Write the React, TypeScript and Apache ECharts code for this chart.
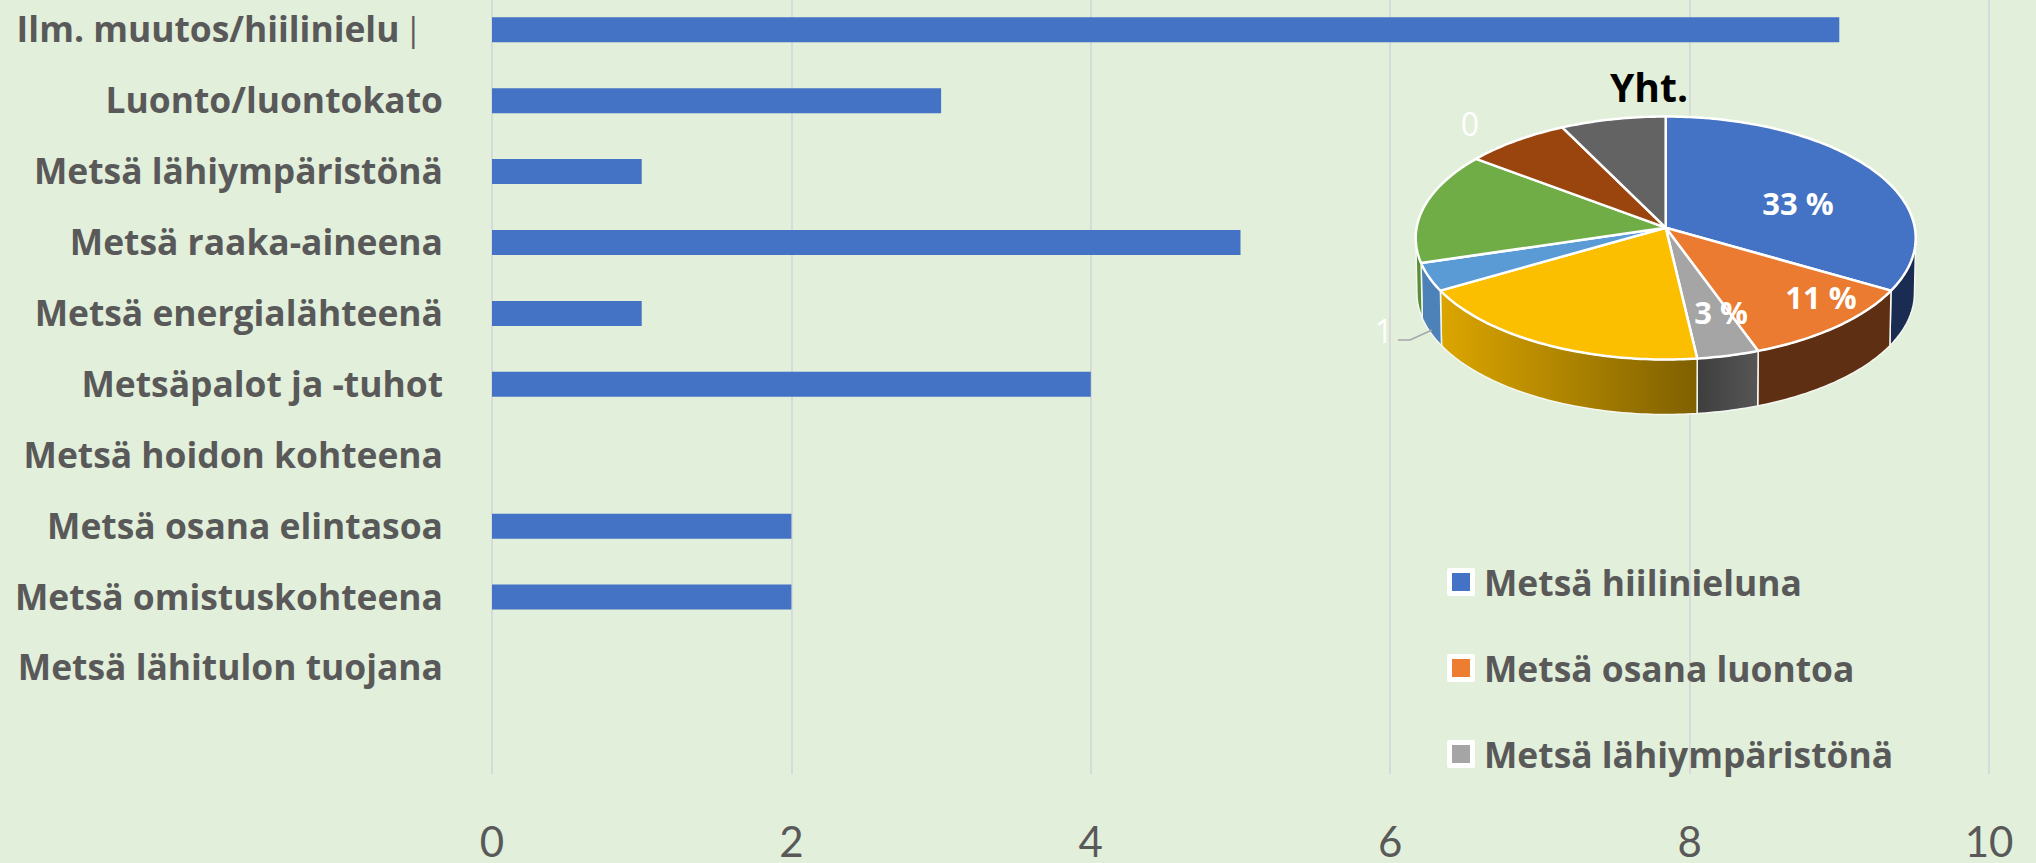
import React, { useEffect, useRef } from "react";
import * as echarts from "echarts";

const categories = [
  "Ilm. muutos/hiilinielu",
  "Luonto/luontokato",
  "Metsä lähiympäristönä",
  "Metsä raaka-aineena",
  "Metsä energialähteenä",
  "Metsäpalot ja -tuhot",
  "Metsä hoidon kohteena",
  "Metsä osana elintasoa",
  "Metsä omistuskohteena",
  "Metsä lähitulon tuojana",
  "",
];
const values = [9, 3, 1, 5, 1, 4, 0, 2, 2, 0, null];
const pieValues = [9, 3, 1, 5, 1, 4, 0, 2, 2, 0];
const pieColors = ["#4472C4", "#EA7B30", "#A5A5A5", "#FBBF00", "#5B9BD5", "#70AD47", "#264478", "#9A450D", "#636363", "#997300"];
const legendNames = ["Metsä hiilinieluna", "Metsä osana luontoa", "Metsä lähiympäristönä"];
const legendColors = ["#4472C4", "#ED7D31", "#A5A5A5"];
const tickStep = 2;

const linear = (a: string, b: string) => ({
  type: "linear", x: 0, y: 0, x2: 1, y2: 0,
  colorStops: [{ offset: 0, color: a }, { offset: 1, color: b }],
});
const wallFill: any[] = [
  "#1B2C52", "#5E2F13", linear("#3E3E3E", "#565656"), linear("#DCA600", "#7F6000"),
  "#4D82B8", "#5A8F36", "#1B2C52", "#5E2F13", "#444444", "#7F6000",
];

const FONT = "'Open Sans', sans-serif";
const TICKFONT = "Lato, sans-serif";
const GREY = "#595959";
const LABEL_SIZE = 35.4;
const OFF = 20;
const GRID_TOP = OFF - 5.65;
const cx = 1665.7, cy = 238 + OFF, rx = 250, ry = 121.5, depth = 55;
const apex = [1665.7, 227.7 + OFF];
const total = pieValues.reduce((a, b) => a + b, 0);
const DEG = Math.PI / 180;
const warp = (t: number) => t - 0.087 * Math.sin(t);
const rim = (t: number, dy = 0, k = 1) => {
  const p = warp(t);
  return [cx + k * rx * Math.sin(p), cy + dy - ry * Math.cos(p)];
};
const arcPts = (a: number, b: number, dy = 0, k = 1) => {
  const n = Math.max(2, Math.ceil(Math.abs(b - a) / DEG));
  const out: number[][] = [];
  for (let i = 0; i <= n; i++) out.push(rim(a + ((b - a) * i) / n, dy, k));
  return out;
};

const pct = (v: number) => `${Math.floor((v / total) * 100)} %`;

function renderSlice(params: any) {
  const i = params.dataIndex;
  const v = pieValues[i];
  if (!v) return null;
  const before = pieValues.slice(0, i).reduce((a, b) => a + b, 0);
  const t1 = (before / total) * 2 * Math.PI;
  const t2 = ((before + v) / total) * 2 * Math.PI;
  const children: any[] = [];
  const wa = Math.max(t1, 95 * DEG);
  const wb = Math.min(t2, 265 * DEG);
  if (wb > wa) {
    children.push({
      type: "polygon",
      shape: { points: [...arcPts(wa, wb), ...arcPts(wb, wa, depth, 0.995)] },
      style: { fill: wallFill[i], stroke: "#F4F8F0", lineWidth: 1.5 },
    });
  }
  children.push({
    type: "polygon",
    shape: { points: [apex, ...arcPts(t1, t2)] },
    style: { fill: pieColors[i], stroke: "#FFFFFF", lineWidth: 2.5, lineJoin: "round" },
  });
  return { type: "group", children };
}

const txt = (text: string, x: number, y: number, fontSize: number, weight: string, fill: string, align = "center", font = FONT) => ({
  type: "text", x, y: y + OFF, z: 100,
  style: { text, fill, textAlign: align, textVerticalAlign: "middle", font: `${weight} ${fontSize}px ${font}` },
});

export default function App() {
  const ref = useRef<HTMLDivElement>(null);
  useEffect(() => {
    document.body.style.margin = "0";
    document.body.style.background = "#E2EFDA";
    const chart = echarts.init(ref.current!, null, { renderer: "svg" });
    const legendRows = [582, 668, 754];
    const legendGraphics: any[] = [];
    legendNames.forEach((name, i) => {
      const y = legendRows[i] + OFF;
      legendGraphics.push({ type: "rect", z: 100, shape: { x: 1447, y: y - 14, width: 28, height: 28, r: 2 }, style: { fill: "#FFFFFF" } });
      legendGraphics.push({ type: "rect", z: 101, shape: { x: 1452, y: y - 9, width: 18, height: 18 }, style: { fill: legendColors[i] } });
      legendGraphics.push(txt(name, 1484, legendRows[i], LABEL_SIZE, "bold", GREY, "left"));
    });
    chart.setOption({
      animation: false,
      backgroundColor: "#E2EFDA",
      grid: { left: 492, top: GRID_TOP, width: 1497, height: 780, containLabel: false, outerBoundsMode: "none" },
      xAxis: {
        type: "value", min: 0, max: 10, interval: tickStep,
        axisLine: { show: false }, axisTick: { show: false },
        axisLabel: { fontFamily: TICKFONT, fontSize: 42, lineHeight: 42, color: GREY, margin: 46 },
        splitLine: { lineStyle: { color: "#D6DADA", width: 2 } },
      },
      yAxis: {
        type: "category", inverse: true, data: categories,
        axisLine: { show: false }, axisTick: { show: false },
        axisLabel: {
          margin: 49, fontFamily: FONT, fontSize: LABEL_SIZE, fontWeight: "bold", color: GREY, align: "right", interval: 0,
          padding: [0, 0, 3, 0],
          formatter: (v: string, i: number) => (i === 0 ? `{a|${v}}{b||}` : v),
          rich: {
            a: { fontFamily: FONT, fontSize: LABEL_SIZE, fontWeight: "bold", color: GREY },
            b: { fontFamily: FONT, fontSize: 32, fontWeight: "normal", color: GREY, padding: [0, 21, 0, 5] },
          },
        },
      },
      series: [
        { type: "bar", data: values, barWidth: 25, itemStyle: { color: "#4472C4" }, z: 2 },
        {
          type: "custom", coordinateSystem: "none", z: 5, silent: true,
          data: pieValues.map((v, i) => ({ name: categories[i], value: v })),
          renderItem: renderSlice,
        },
      ],
      graphic: [
        txt("Yht.", 1649, 86, 39, "bold", "#000000"),
        txt(pct(pieValues[0]), 1798, 203, 31, "bold", "#FFFFFF"),
        txt(pct(pieValues[1]), 1821, 297, 31, "bold", "#FFFFFF"),
        txt(pct(pieValues[2]), 1721, 312, 31, "bold", "#FFFFFF"),
        txt(String(pieValues[6]), 1470, 123, 32, "normal", "#FFFFFF"),
        txt(String(pieValues[4]), 1384, 330, 32, "normal", "#FFFFFF"),
        { type: "polyline", z: 100, shape: { points: [[1398, 340 + OFF], [1410, 340 + OFF], [1432, 330 + OFF]] }, style: { stroke: "#A6A6A6", lineWidth: 1.5, fill: "none" } },
        ...legendGraphics,
      ],
    });
    return () => chart.dispose();
  }, []);
  return <div ref={ref} style={{ position: "fixed", left: 0, top: -OFF, width: 2036, height: 863 + OFF }} />;
}
